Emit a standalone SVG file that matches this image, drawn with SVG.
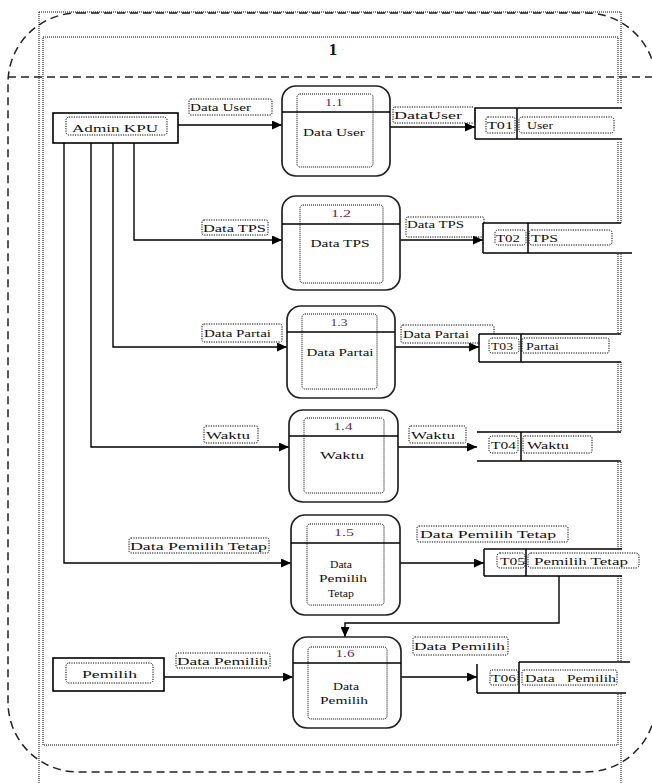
<svg xmlns="http://www.w3.org/2000/svg" width="652" height="783" viewBox="0 0 652 783">
<defs>
<marker id="ah" markerUnits="userSpaceOnUse" markerWidth="11" markerHeight="9" refX="10" refY="4.5" orient="auto">
<path d="M0,0 L10,4.5 L0,9 z" fill="#000"/>
</marker>
<style>
.dot{fill:none;stroke:#000;stroke-width:1;stroke-dasharray:1 1}
.lbox{fill:none;stroke:#000;stroke-width:1;stroke-dasharray:1.2 1.2}
.dash{fill:none;stroke:#222;stroke-width:1.5;stroke-dasharray:8 5}
.proc{fill:#fff;stroke:#222;stroke-width:1.7}
.ent{fill:#fff;stroke:#000;stroke-width:1.6}
.flow{fill:none;stroke:#000;stroke-width:1.4;marker-end:url(#ah)}
.ln{fill:none;stroke:#000;stroke-width:1.5}
.wh{fill:#fff;stroke:none}
.t{font-family:"Liberation Serif","Times New Roman",serif;font-size:11px;fill:#111}
.num{fill:#6a2a55}
.big{font-size:17px;font-weight:bold}
</style>
</defs>
<rect width="652" height="783" fill="#fff"/>
<g id="frame">
<rect class="dash" x="8" y="13" width="648" height="759" rx="70" ry="70"/>
<line class="dash" x1="8" y1="77" x2="652" y2="77"/>
<line class="dot" x1="39" y1="12" x2="621" y2="12"/>
<line class="dot" x1="39" y1="12" x2="39" y2="783"/>
<line class="dot" x1="621" y1="12" x2="621" y2="783"/>
<rect class="dot" x="43" y="37" width="575" height="708"/>
<text class="t big" x="333" y="55" text-anchor="middle">1</text>
</g>
<g id="connectors">
<line class="flow" x1="178" y1="125" x2="282" y2="125"/>
<polyline class="flow" points="134,143 134,240 282,240"/>
<polyline class="flow" points="113,143 113,347 287,347"/>
<polyline class="flow" points="91,143 91,447 289,447"/>
<polyline class="flow" points="64,143 64,563 291,563"/>
<line class="flow" x1="390" y1="127" x2="475" y2="127"/>
<line class="flow" x1="400" y1="240" x2="483" y2="240"/>
<line class="flow" x1="395" y1="347" x2="479" y2="347"/>
<line class="flow" x1="398" y1="447" x2="477" y2="447"/>
<line class="flow" x1="400" y1="563" x2="484" y2="563"/>
<polyline class="flow" points="559,576 559,623 345,623 345,637"/>
<line class="flow" x1="164" y1="677" x2="293" y2="677"/>
<line class="flow" x1="401" y1="677" x2="477" y2="677"/>
<rect class="lbox" x="189" y="99" width="83" height="16" rx="2"/>
<text class="t" x="190" y="111" textLength="61" lengthAdjust="spacingAndGlyphs">Data User</text>
<rect class="lbox" x="393" y="107" width="82" height="16" rx="2"/>
<text class="t" x="394" y="119" font-size="13" textLength="68" lengthAdjust="spacingAndGlyphs">DataUser</text>
<rect class="lbox" x="202" y="220" width="66" height="15" rx="2"/>
<text class="t" x="203" y="232" textLength="63" lengthAdjust="spacingAndGlyphs">Data TPS</text>
<rect class="lbox" x="406" y="217" width="78" height="20" rx="2"/>
<text class="t" x="407" y="228" textLength="57" lengthAdjust="spacingAndGlyphs">Data TPS</text>
<rect class="lbox" x="202" y="324" width="80" height="18" rx="2"/>
<text class="t" x="204" y="337" textLength="67" lengthAdjust="spacingAndGlyphs">Data Partai</text>
<rect class="lbox" x="401" y="325" width="93" height="18" rx="2"/>
<text class="t" x="403" y="338" textLength="66" lengthAdjust="spacingAndGlyphs">Data Partai</text>
<rect class="lbox" x="204" y="426" width="54" height="17" rx="2"/>
<text class="t" x="206" y="439" textLength="44" lengthAdjust="spacingAndGlyphs">Waktu</text>
<rect class="lbox" x="409" y="426" width="57" height="17" rx="2"/>
<text class="t" x="411" y="439" textLength="44" lengthAdjust="spacingAndGlyphs">Waktu</text>
<rect class="lbox" x="129" y="538" width="140" height="15" rx="2"/>
<text class="t" x="130" y="550" font-size="13" textLength="137" lengthAdjust="spacingAndGlyphs">Data Pemilih Tetap</text>
<rect class="lbox" x="417" y="526" width="151" height="16" rx="2"/>
<text class="t" x="420" y="538" font-size="13" textLength="136" lengthAdjust="spacingAndGlyphs">Data Pemilih Tetap</text>
<rect class="lbox" x="176" y="653" width="94" height="15" rx="2"/>
<text class="t" x="177" y="665" font-size="13" textLength="91" lengthAdjust="spacingAndGlyphs">Data Pemilih</text>
<rect class="lbox" x="413" y="637" width="95" height="18" rx="2"/>
<text class="t" x="414" y="650" font-size="13" textLength="91" lengthAdjust="spacingAndGlyphs">Data Pemilih</text>
</g>
<g id="admin-kpu">
<rect class="ent" x="53" y="113" width="125" height="30"/>
<rect class="lbox" x="66" y="117" width="101" height="18" rx="3"/>
<text class="t" x="115" y="132" font-size="14" text-anchor="middle" textLength="86" lengthAdjust="spacingAndGlyphs">Admin KPU</text>
</g>
<g id="pemilih">
<rect class="ent" x="53" y="658" width="111" height="33"/>
<rect class="lbox" x="66" y="663" width="87" height="20" rx="3"/>
<text class="t" x="109.5" y="678" font-size="13" text-anchor="middle" textLength="55" lengthAdjust="spacingAndGlyphs">Pemilih</text>
</g>
<g id="p1-1">
<rect class="proc" x="282" y="86" width="108" height="90" rx="14"/>
<line class="ln" x1="282" y1="112" x2="390" y2="112"/>
<rect class="dot" x="297" y="94" width="76" height="73" rx="3"/>
<text class="t num" x="334" y="106" text-anchor="middle" textLength="18" lengthAdjust="spacingAndGlyphs">1.1</text>
<text class="t" x="334" y="136" text-anchor="middle" textLength="62" lengthAdjust="spacingAndGlyphs">Data User</text>
</g>
<g id="p1-2">
<rect class="proc" x="282" y="196" width="118" height="94" rx="14"/>
<line class="ln" x1="282" y1="224" x2="400" y2="224"/>
<rect class="dot" x="300" y="205" width="83" height="78" rx="3"/>
<text class="t num" x="341" y="217" text-anchor="middle" textLength="20" lengthAdjust="spacingAndGlyphs">1.2</text>
<text class="t" x="340" y="247" text-anchor="middle" textLength="59" lengthAdjust="spacingAndGlyphs">Data TPS</text>
</g>
<g id="p1-3">
<rect class="proc" x="287" y="306" width="108" height="92" rx="14"/>
<line class="ln" x1="287" y1="332" x2="395" y2="332"/>
<rect class="dot" x="302" y="314" width="75" height="75" rx="3"/>
<text class="t num" x="339" y="326" text-anchor="middle" textLength="17" lengthAdjust="spacingAndGlyphs">1.3</text>
<text class="t" x="340" y="356" text-anchor="middle" textLength="67" lengthAdjust="spacingAndGlyphs">Data Partai</text>
</g>
<g id="p1-4">
<rect class="proc" x="289" y="410" width="109" height="92" rx="14"/>
<line class="ln" x1="289" y1="436" x2="398" y2="436"/>
<rect class="dot" x="304" y="418" width="80" height="75" rx="3"/>
<text class="t num" x="343" y="430" text-anchor="middle" textLength="19" lengthAdjust="spacingAndGlyphs">1.4</text>
<text class="t" x="342" y="459" text-anchor="middle" textLength="44" lengthAdjust="spacingAndGlyphs">Waktu</text>
</g>
<g id="p1-5">
<rect class="proc" x="291" y="515" width="109" height="100" rx="14"/>
<line class="ln" x1="291" y1="543" x2="400" y2="543"/>
<rect class="dot" x="307" y="524" width="77" height="81" rx="3"/>
<text class="t num" x="344" y="536" text-anchor="middle" textLength="20" lengthAdjust="spacingAndGlyphs">1.5</text>
<text class="t" x="341" y="568" text-anchor="middle" textLength="22" lengthAdjust="spacingAndGlyphs">Data</text>
<text class="t" x="343" y="582" text-anchor="middle" textLength="48" lengthAdjust="spacingAndGlyphs">Pemilih</text>
<text class="t" x="341" y="597" text-anchor="middle" textLength="26" lengthAdjust="spacingAndGlyphs">Tetap</text>
</g>
<g id="p1-6">
<rect class="proc" x="293" y="637" width="108" height="91" rx="14"/>
<line class="ln" x1="293" y1="663" x2="401" y2="663"/>
<rect class="dot" x="308" y="647" width="79" height="72" rx="3"/>
<text class="t num" x="345" y="657" text-anchor="middle" textLength="19" lengthAdjust="spacingAndGlyphs">1.6</text>
<text class="t" x="346" y="690" text-anchor="middle" textLength="26" lengthAdjust="spacingAndGlyphs">Data</text>
<text class="t" x="344" y="704" text-anchor="middle" textLength="48" lengthAdjust="spacingAndGlyphs">Pemilih</text>
</g>
<g id="t01">
<rect class="wh" x="476" y="104" width="148" height="38"/>
<line class="ln" x1="475" y1="108" x2="622" y2="108"/>
<line class="ln" x1="475" y1="139" x2="622" y2="139"/>
<line class="ln" x1="475" y1="108" x2="475" y2="139"/>
<line class="ln" x1="517" y1="108" x2="517" y2="139"/>
<rect class="lbox" x="486" y="117" width="29" height="16" rx="2"/>
<rect class="lbox" x="519" y="117" width="95" height="16" rx="3"/>
<text class="t" x="487" y="129" textLength="26" lengthAdjust="spacingAndGlyphs">T01</text>
<text class="t" x="527" y="129" textLength="26" lengthAdjust="spacingAndGlyphs">User</text>
</g>
<g id="t02">
<rect class="wh" x="484" y="223" width="140" height="30"/>
<line class="ln" x1="483" y1="223" x2="621" y2="223"/>
<line class="ln" x1="483" y1="253" x2="632" y2="253"/>
<line class="ln" x1="483" y1="223" x2="483" y2="253"/>
<line class="ln" x1="528" y1="223" x2="528" y2="253"/>
<rect class="lbox" x="495" y="230" width="31" height="15" rx="3"/>
<rect class="lbox" x="529" y="230" width="83" height="15" rx="3"/>
<text class="t" x="496" y="242" textLength="24" lengthAdjust="spacingAndGlyphs">T02</text>
<text class="t" x="531" y="242" textLength="27" lengthAdjust="spacingAndGlyphs">TPS</text>
</g>
<g id="t03">
<rect class="wh" x="480" y="334" width="143" height="28"/>
<line class="ln" x1="479" y1="334" x2="621" y2="334"/>
<line class="ln" x1="479" y1="362" x2="621" y2="362"/>
<line class="ln" x1="479" y1="334" x2="479" y2="362"/>
<line class="ln" x1="521" y1="334" x2="521" y2="362"/>
<rect class="lbox" x="489" y="338" width="30" height="15" rx="3"/>
<rect class="lbox" x="522" y="338" width="87" height="15" rx="2"/>
<text class="t" x="491" y="350" textLength="22" lengthAdjust="spacingAndGlyphs">T03</text>
<text class="t" x="526" y="350" textLength="33" lengthAdjust="spacingAndGlyphs">Partai</text>
</g>
<g id="t04">
<rect class="wh" x="477" y="432" width="146" height="29"/>
<line class="ln" x1="477" y1="432" x2="621" y2="432"/>
<line class="ln" x1="477" y1="461" x2="621" y2="461"/>
<line class="ln" x1="521" y1="432" x2="521" y2="461"/>
<rect class="lbox" x="489" y="436" width="29" height="17" rx="3"/>
<rect class="lbox" x="523" y="436" width="69" height="17" rx="2"/>
<text class="t" x="491" y="449" textLength="25" lengthAdjust="spacingAndGlyphs">T04</text>
<text class="t" x="527" y="449" textLength="42" lengthAdjust="spacingAndGlyphs">Waktu</text>
</g>
<g id="t05">
<rect class="wh" x="485" y="549" width="138" height="27"/>
<line class="ln" x1="484" y1="549" x2="622" y2="549"/>
<line class="ln" x1="484" y1="576" x2="622" y2="576"/>
<line class="ln" x1="484" y1="549" x2="484" y2="576"/>
<line class="ln" x1="526" y1="549" x2="526" y2="576"/>
<rect class="lbox" x="497" y="553" width="28" height="15" rx="3"/>
<rect class="lbox" x="528" y="553" width="111" height="15" rx="3"/>
<text class="t" x="500" y="565" textLength="25" lengthAdjust="spacingAndGlyphs">T05</text>
<text class="t" x="534" y="565" font-size="13" textLength="94" lengthAdjust="spacingAndGlyphs">Pemilih Tetap</text>
</g>
<g id="t06">
<rect class="wh" x="478" y="662" width="148" height="31"/>
<line class="ln" x1="519" y1="662" x2="630" y2="662"/>
<line class="ln" x1="477" y1="693" x2="626" y2="693"/>
<line class="ln" x1="477" y1="664" x2="477" y2="693"/>
<line class="ln" x1="519" y1="662" x2="519" y2="693"/>
<rect class="lbox" x="490" y="670" width="28" height="15" rx="2"/>
<rect class="lbox" x="522" y="670" width="95" height="15" rx="2"/>
<text class="t" x="491" y="682" textLength="25" lengthAdjust="spacingAndGlyphs">T06</text>
<text class="t" x="525" y="682" textLength="91" lengthAdjust="spacingAndGlyphs" xml:space="preserve">Data   Pemilih</text>
</g>
</svg>
